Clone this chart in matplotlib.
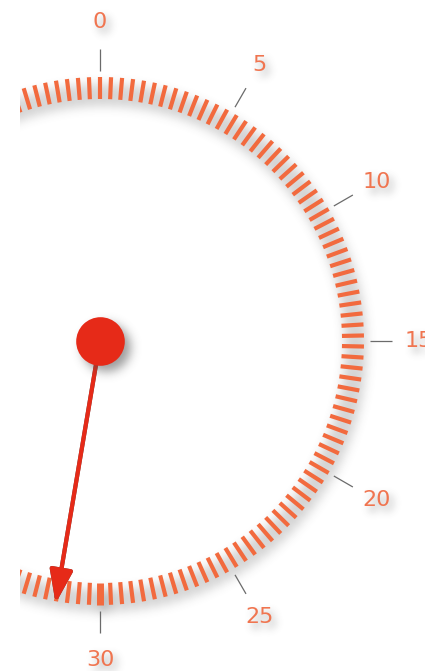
#!/usr/bin/env python3
import numpy as np
import matplotlib
matplotlib.use("Agg")
import matplotlib.pyplot as plt
from matplotlib.patches import Rectangle

# --- gauge data ---
scale_min, scale_max = 0, 60          # full dial, only the right half is in view
minor_step = 0.4
major_values = [0, 5, 10, 15, 20, 25, 30]
major_labels = ["0", "5", "10", "15", "20", "25", "30"]
needle_value = 31.6

# --- look ---
W, H, DPI = 425, 671, 100
CX, CY = 100, 341          # pivot in pixels (from top-left)
R_AX = 340                 # polar axes radius in px
TICK_C = "#F26A3E"
LABEL_C = "#F07550"
NEEDLE_C = "#E62A18"
GRAY_C = "#6b6b6b"


def gauss_blur(a, sigma):
    n = int(3 * sigma)
    k = np.exp(-0.5 * (np.arange(-n, n + 1) / sigma) ** 2)
    k /= k.sum()
    a = np.apply_along_axis(lambda m: np.convolve(m, k, mode="same"), 0, a)
    a = np.apply_along_axis(lambda m: np.convolve(m, k, mode="same"), 1, a)
    return a


class DropShadow:
    def __init__(self, sigma, alpha, dx, dy, color=(0.3, 0.3, 0.3)):
        self.sigma, self.alpha, self.dx, self.dy, self.color = sigma, alpha, dx, dy, color

    def __call__(self, im, dpi):
        pad = int(3 * self.sigma + max(abs(self.dx), abs(self.dy))) + 2
        src = np.pad(im, [(pad, pad), (pad, pad), (0, 0)])
        out = np.zeros_like(src)
        out[..., :3] = self.color
        a = gauss_blur(src[..., 3] * self.alpha, self.sigma)
        a = np.roll(a, self.dx, axis=1)
        a = np.roll(a, self.dy, axis=0)
        out[..., 3] = np.clip(a, 0, 1)
        return out, -pad, -pad


def val2theta(v):
    return np.deg2rad((np.asarray(v, dtype=float) - scale_min) / (scale_max - scale_min) * 360.0)


fig = plt.figure(figsize=(W / DPI, H / DPI), dpi=DPI)
ax = fig.add_axes([(CX - R_AX) / W, (H - CY - R_AX) / H, 2 * R_AX / W, 2 * R_AX / H],
                  projection="polar")
ax.set_theta_zero_location("N")
ax.set_theta_direction(-1)
ax.set_ylim(0, R_AX)
ax.set_axis_off()

# minor tick ring (radial dashes) + its soft shadow
minor_vals = np.arange(scale_min, scale_max, minor_step)
th = val2theta(minor_vals)
lw = np.where(np.isclose(minor_vals, 30), 5.0, 3.0)
sh = ax.vlines(th, 242, 264, colors="#555555", linewidth=lw, zorder=1)
sh.set_agg_filter(DropShadow(5, 0.6, 3, 7))
ax.vlines(th, 242, 264, colors=TICK_C, linewidth=lw, capstyle="butt", zorder=2)

# major ticks and labels
th_major = val2theta(major_values)
ax.vlines(th_major, 270, 292, colors=GRAY_C, linewidth=0.9, zorder=2)
for t, lab in zip(th_major, major_labels):
    s = ax.text(t, 319, lab, color="#777777", fontsize=16, ha="center", va="center",
                family="DejaVu Sans", zorder=1, clip_on=False)
    s.set_agg_filter(DropShadow(4, 0.5, 4, 5))
    ax.text(t, 319, lab, color=LABEL_C, fontsize=16, ha="center", va="center",
            family="DejaVu Sans", zorder=3, clip_on=False)

# needle
tn = val2theta(needle_value)
r_tip = 266
for shadow in (True, False):
    a = ax.annotate("", xy=(tn, r_tip), xytext=(0, 0),
                    arrowprops=dict(arrowstyle="-|>,head_length=2.0,head_width=0.7",
                                    mutation_scale=10, color="#555555" if shadow else NEEDLE_C,
                                    linewidth=3.0, shrinkA=0, shrinkB=0),
                    zorder=4 if shadow else 5)
    if shadow:
        a.arrow_patch.set_agg_filter(DropShadow(6, 0.45, 9, 3))

# pivot
p = ax.plot([0], [0], "o", ms=35, color="#555555", mec="none", zorder=6)[0]
p.set_agg_filter(DropShadow(5, 0.55, 6, 6))
ax.plot([0], [0], "o", ms=35, color=NEEDLE_C, mec="none", zorder=7)

# left strip is blank in the original view
fig.add_artist(Rectangle((0, 0), 20 / W, 1, transform=fig.transFigure,
                         facecolor="white", edgecolor="none", zorder=20))

fig.savefig("out.png", dpi=DPI, facecolor="white")
